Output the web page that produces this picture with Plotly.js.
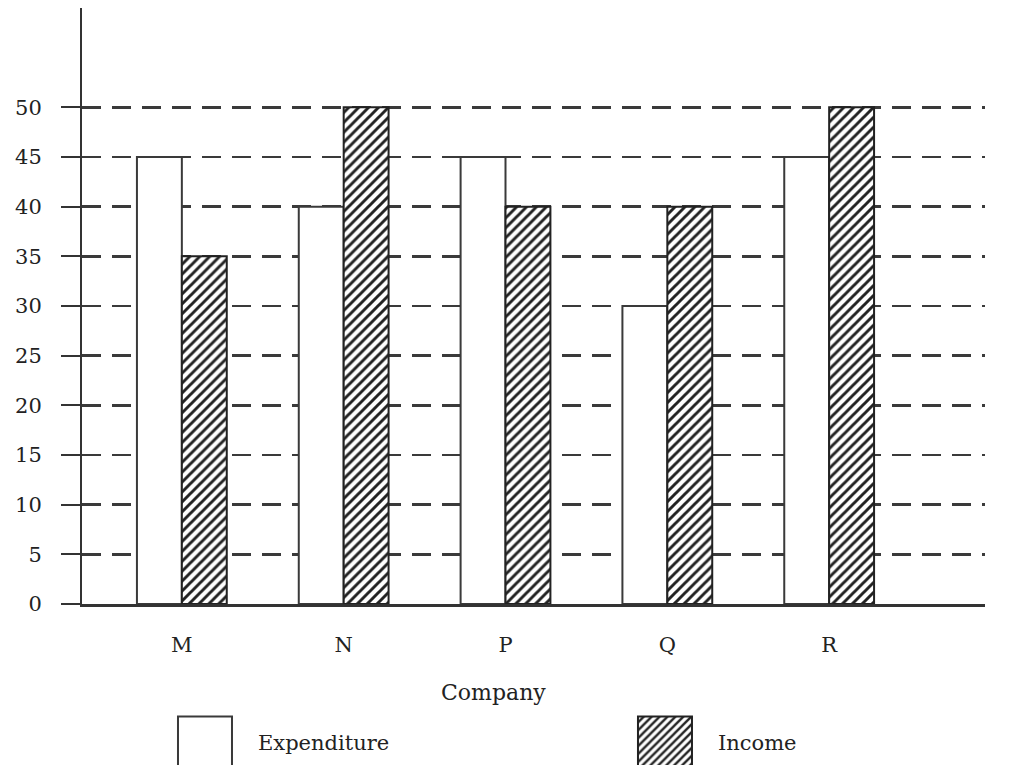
<!DOCTYPE html>
<html>
<head>
<meta charset="utf-8">
<script src="https://cdn.plot.ly/plotly-3.0.1.min.js"></script>
<style>
  html, body { margin: 0; padding: 0; background: #ffffff; }
  #chart { width: 1016px; height: 765px; }
</style>
</head>
<body>
<div id="chart"></div>
<script>
// ---- data ----
const companies = ["M", "N", "P", "Q", "R"];
const expenditure = [45, 40, 45, 30, 45];
const income = [35, 50, 40, 40, 50];
const yTickVals = [0, 5, 10, 15, 20, 25, 30, 35, 40, 45, 50];
const seriesNames = ["Expenditure", "Income"];
const xAxisTitle = "Company";

const FONT = "DejaVu Serif, Liberation Serif, serif";
const INK = "#222222";

const traces = [
  {
    type: "bar",
    name: seriesNames[0],
    x: companies,
    y: expenditure,
    legend: "legend",
    marker: { color: "#ffffff", line: { color: "#3a3a3a", width: 2 } },
    hoverinfo: "skip"
  },
  {
    type: "bar",
    name: seriesNames[1],
    x: companies,
    y: income,
    legend: "legend2",
    marker: {
      color: "#ffffff",
      line: { color: "#222222", width: 2 },
      pattern: { shape: "/", fgcolor: "#222222", bgcolor: "#ffffff", size: 7, solidity: 0.42 }
    },
    hoverinfo: "skip"
  }
];

const legendBase = {
  orientation: "h",
  xanchor: "left",
  y: -0.2315,
  yanchor: "middle",
  font: { family: FONT, size: 21, color: INK },
  bgcolor: "rgba(0,0,0,0)"
};

const layout = {
  width: 1016,
  height: 765,
  margin: { l: 82, r: 31, t: 8, b: 161, autoexpand: false },
  paper_bgcolor: "#ffffff",
  plot_bgcolor: "#ffffff",
  font: { family: FONT, color: INK, size: 21 },
  barmode: "group",
  bargap: 0.445,
  bargroupgap: 0,
  showlegend: true,
  legend: Object.assign({}, legendBase, { x: 0.1506 }),
  legend2: Object.assign({}, legendBase, { x: 0.66 }),
  annotations: [
    {
      text: xAxisTitle,
      xref: "paper", yref: "paper",
      x: 0.456, y: -0.1493,
      xanchor: "center", yanchor: "middle",
      showarrow: false,
      font: { family: FONT, size: 22, color: INK }
    }
  ],
  xaxis: {
    type: "category",
    range: [-0.617, 4.963],
    showline: true,
    linecolor: "#333333",
    linewidth: 2.5,
    ticks: "",
    showgrid: false,
    zeroline: false,
    ticklabelstandoff: 20,
    tickfont: { family: FONT, size: 21, color: INK }
  },
  yaxis: {
    range: [0, 60],
    tickmode: "array",
    tickvals: yTickVals,
    ticktext: yTickVals.map(String),
    ticks: "outside",
    ticklen: 19,
    tickwidth: 2,
    tickcolor: "#333333",
    ticklabelstandoff: 15,
    showline: true,
    linecolor: "#333333",
    linewidth: 2,
    showgrid: true,
    gridcolor: "#3a3a3a",
    gridwidth: 2.5,
    griddash: "19px,11px",
    zeroline: false,
    tickfont: { family: FONT, size: 21, color: INK }
  }
};

// enlarge the legend swatches to the reference's big boxes, placed left of the label
function enlargeLegend(gd) {
  gd.querySelectorAll(".infolayer > g").forEach(g => {
    const cls = g.getAttribute("class") || "";
    if (!/^legend/.test(cls)) return;
    g.querySelectorAll("[clip-path]").forEach(el => el.removeAttribute("clip-path"));
  });
  gd.querySelectorAll(".infolayer .legendpoints path").forEach(p => {
    p.setAttribute("d", "M-6,25H-60V-25H-6Z");
  });
}

const gd = document.getElementById("chart");
Plotly.newPlot(gd, traces, layout, { staticPlot: true, displayModeBar: false }).then(() => {
  enlargeLegend(gd);
  gd.on("plotly_afterplot", () => enlargeLegend(gd));
  setTimeout(() => enlargeLegend(gd), 0);
});
</script>
</body>
</html>
